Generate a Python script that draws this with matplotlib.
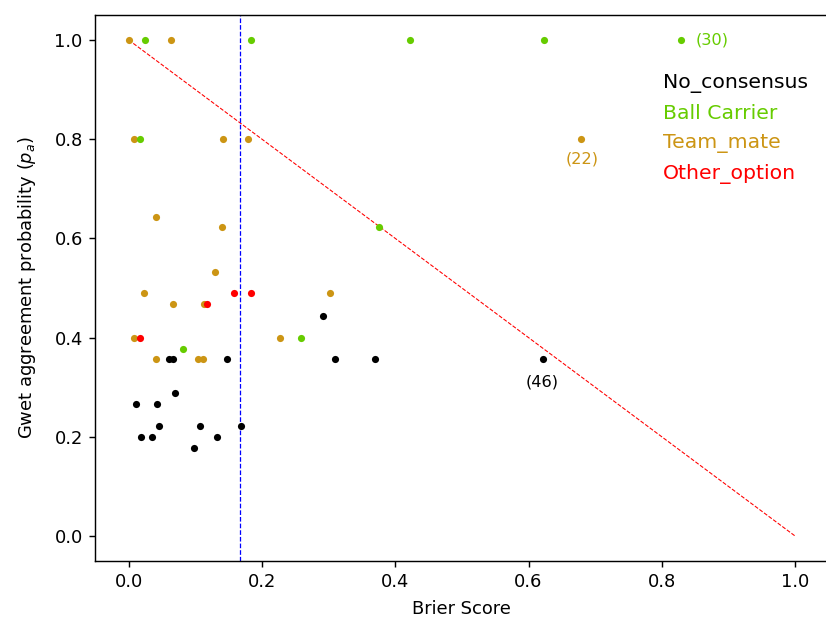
import matplotlib
matplotlib.use('Agg')
import matplotlib.pyplot as plt

# Brier score vs Gwet agreement probability, grouped by consensus label
no_consensus_x = [0.291, 0.061, 0.066, 0.148, 0.309, 0.370, 0.621, 0.070, 0.011,
                  0.042, 0.045, 0.107, 0.168, 0.018, 0.035, 0.132, 0.098]
no_consensus_y = [0.444, 0.356, 0.356, 0.356, 0.356, 0.356, 0.356, 0.289, 0.267,
                  0.267, 0.222, 0.222, 0.222, 0.200, 0.200, 0.200, 0.178]

ball_carrier_x = [0.025, 0.183, 0.422, 0.623, 0.829, 0.0175, 0.376, 0.258, 0.082]
ball_carrier_y = [1.0, 1.0, 1.0, 1.0, 1.0, 0.8, 0.622, 0.4, 0.378]

team_mate_x = [0.0, 0.063, 0.008, 0.141, 0.179, 0.678, 0.041, 0.140, 0.130,
               0.0235, 0.302, 0.066, 0.113, 0.008, 0.227, 0.041, 0.1045, 0.112]
team_mate_y = [1.0, 1.0, 0.8, 0.8, 0.8, 0.8, 0.644, 0.622, 0.533,
               0.489, 0.489, 0.467, 0.467, 0.4, 0.4, 0.356, 0.356, 0.356]

other_option_x = [0.158, 0.183, 0.117, 0.0175]
other_option_y = [0.489, 0.489, 0.467, 0.4]

mean_brier = 0.167

labels = ['No_consensus', 'Ball Carrier', 'Team_mate', 'Other_option']
colors = ['black', '#66CC00', '#CC9514', 'red']

fig = plt.figure(figsize=(826 / 129, 621 / 129), dpi=129)
ax = fig.add_axes([95.4 / 826, 60.2 / 621, 733 / 826, 545.6 / 621])

ax.plot([0, 1], [1, 0], color='red', linestyle='--', linewidth=0.6)
ax.axvline(mean_brier, color='blue', linestyle='--', linewidth=0.7)

ax.scatter(no_consensus_x, no_consensus_y, s=16, color=colors[0], linewidths=0, zorder=3)
ax.scatter(team_mate_x, team_mate_y, s=16, color=colors[2], linewidths=0, zorder=3)
ax.scatter(other_option_x, other_option_y, s=16, color=colors[3], linewidths=0, zorder=3)
ax.scatter(ball_carrier_x, ball_carrier_y, s=16, color=colors[1], linewidths=0, zorder=3)

# case numbers for the outlying points
ax.annotate('(30)', (ball_carrier_x[4], ball_carrier_y[4]), xytext=(8, 0),
            textcoords='offset points', ha='left', va='center', fontsize=9, color=colors[1])
ax.annotate('(22)', (team_mate_x[5], team_mate_y[5]), xytext=(1, -11),
            textcoords='offset points', ha='center', va='center', fontsize=9, color=colors[2])
ax.annotate('(46)', (no_consensus_x[6], no_consensus_y[6]), xytext=(0, -12.5),
            textcoords='offset points', ha='center', va='center', fontsize=9, color='black')

# coloured text legend
for i, (lab, col) in enumerate(zip(labels, colors)):
    ax.text(0.774, 0.874 - i * 0.055, lab, color=col, fontsize=11.4,
            transform=ax.transAxes, ha='left', va='center')

ax.set_xlim(-0.05, 1.05)
ax.set_ylim(-0.05, 1.05)
ax.set_xticks([0.0, 0.2, 0.4, 0.6, 0.8, 1.0])
ax.set_yticks([0.0, 0.2, 0.4, 0.6, 0.8, 1.0])
ax.set_xlabel('Brier Score', labelpad=5)
ax.set_ylabel('Gwet aggreement probability ($p_a$)', labelpad=9)

fig.savefig('out.png', dpi=129)
